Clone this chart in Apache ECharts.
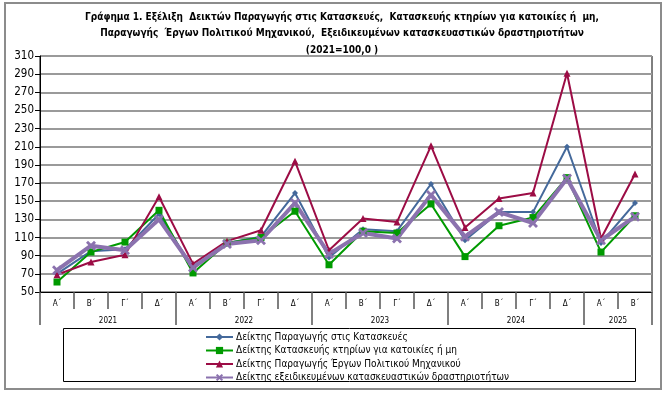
<!DOCTYPE html>
<html>
<head>
<meta charset="utf-8">
<script src="https://cdn.jsdelivr.net/npm/echarts@6/dist/echarts.min.js"></script>
<style>
  html, body { margin: 0; padding: 0; background: #fff; }
  #chart { width: 667px; height: 397px; }
</style>
</head>
<body>
<div id="chart"></div>
<script>
// quarters and years (two level category axis)
var quarters = ['Α΄', 'Β΄', 'Γ΄', 'Δ΄', 'Α΄', 'Β΄', 'Γ΄', 'Δ΄', 'Α΄', 'Β΄', 'Γ΄', 'Δ΄', 'Α΄', 'Β΄', 'Γ΄', 'Δ΄', 'Α΄', 'Β΄'];
var years = ['2021', '2022', '2023', '2024', '2025'];
var yearQuarters = [4, 4, 4, 4, 2];

var seriesNames = [
    'Δείκτης Παραγωγής στις Κατασκευές',
    'Δείκτης Κατασκευής κτηρίων για κατοικίες ή μη',
    'Δείκτης Παραγωγής Έργων Πολιτικού Μηχανικού',
    'Δείκτης εξειδικευμένων κατασκευαστικών δραστηριοτήτων'
];
var construction = [70, 95, 97, 136, 76, 104, 111, 159, 88, 119, 117, 169, 107, 138, 138, 210, 104, 148];
var buildings = [61, 94, 105, 140, 71, 104, 110, 139, 80, 117, 115, 147, 89, 123, 132, 176, 94, 134];
var civilEng = [69, 83, 91, 155, 81, 106, 118, 194, 96, 131, 127, 211, 121, 153, 159, 291, 109, 180];
var specialised = [74, 101, 96, 130, 77, 103, 107, 148, 92, 115, 109, 157, 111, 138, 126, 175, 107, 133];

// year axis: one slot per half quarter, label in the middle of each year
var yearSlots = [];
var yearBounds = [0];
for (var i = 0; i <= quarters.length * 2; i++) yearSlots.push('');
var pos = 0;
years.forEach(function (y, k) {
    yearSlots[pos * 2 + yearQuarters[k]] = y;
    pos += yearQuarters[k];
    yearBounds.push(pos * 2);
});

var FONT = "'Liberation Sans Narrow', 'DejaVu Sans Condensed', sans-serif";

var mychart = echarts.init(document.getElementById('chart'));
var option = {
    animation: false,
    backgroundColor: '#fff',
    textStyle: { fontFamily: FONT },
    title: {
        text: 'Γράφημα 1. Εξέλιξη  Δεικτών Παραγωγής στις Κατασκευές,  Κατασκευής κτηρίων για κατοικίες ή  μη,\nΠαραγωγής  Έργων Πολιτικού Μηχανικού,  Εξειδικευμένων κατασκευαστικών δραστηριοτήτων\n(2021=100,0 )',
        left: 337,
        top: 4,
        textAlign: 'center',
        textStyle: {
            fontFamily: FONT,
            fontSize: 10,
            fontWeight: 'bold',
            color: '#000',
            lineHeight: 16.5
        }
    },
    graphic: [
        // outer frame
        { type: 'rect', shape: { x: 5, y: 3, width: 656, height: 386 }, style: { fill: null, stroke: '#8c8c8c', lineWidth: 2 }, silent: true },
        // legend frame
        { type: 'rect', shape: { x: 63.5, y: 328.5, width: 572, height: 53 }, style: { fill: null, stroke: '#000', lineWidth: 1 }, silent: true }
    ],
    grid: {
        left: 40,
        right: 15,
        top: 56,
        bottom: 105,
        show: true,
        borderColor: '#000',
        borderWidth: 1
    },
    legend: {
        orient: 'vertical',
        left: 200,
        top: 327,
        itemGap: 3.5,
        itemWidth: 27,
        itemHeight: 9,
        textStyle: { fontFamily: FONT, fontSize: 10, color: '#000', padding: [0, 0, 0, -2] },
        data: seriesNames
    },
    xAxis: [
        {
            type: 'category',
            data: quarters,
            boundaryGap: true,
            axisLine: { show: true, lineStyle: { color: '#000', width: 1 } },
            axisTick: { show: true, length: 17, lineStyle: { color: '#555', width: 1.5 } },
            axisLabel: { interval: 0, margin: 8, fontSize: 8, color: '#000', fontFamily: FONT }
        },
        {
            type: 'category',
            data: yearSlots,
            boundaryGap: false,
            position: 'bottom',
            axisLine: { show: false },
            axisTick: {
                show: true,
                length: 33,
                interval: function (index) { return yearBounds.indexOf(index) >= 0; },
                lineStyle: { color: '#555', width: 1.5 }
            },
            axisLabel: { interval: 0, margin: 25, fontSize: 8, color: '#000', fontFamily: FONT }
        }
    ],
    yAxis: {
        type: 'value',
        min: 50,
        max: 310,
        interval: 20,
        axisLine: { show: true, lineStyle: { color: '#000' } },
        axisTick: { show: true, length: 5, lineStyle: { color: '#000' } },
        axisLabel: { fontSize: 11.5, color: '#000', margin: 6, fontFamily: FONT },
        splitLine: { show: true, lineStyle: { color: '#9a9a9a', width: 2 } }
    },
    series: [
        {
            name: seriesNames[0],
            type: 'line',
            data: construction,
            symbol: 'diamond',
            symbolSize: 6,
            itemStyle: { color: '#44699b' },
            lineStyle: { color: '#44699b', width: 2 }
        },
        {
            name: seriesNames[1],
            type: 'line',
            data: buildings,
            symbol: 'rect',
            symbolSize: 7,
            itemStyle: { color: '#009a00' },
            lineStyle: { color: '#009a00', width: 2 }
        },
        {
            name: seriesNames[2],
            type: 'line',
            data: civilEng,
            symbol: 'triangle',
            symbolSize: 7,
            itemStyle: { color: '#9c0c45' },
            lineStyle: { color: '#9c0c45', width: 2 }
        },
        {
            name: seriesNames[3],
            type: 'line',
            data: specialised,
            symbol: 'path://M2,0 L5,3 L8,0 L10,2 L7,5 L10,8 L8,10 L5,7 L2,10 L0,8 L3,5 L0,2 Z',
            symbolSize: 10,
            itemStyle: { color: '#8b72ae' },
            lineStyle: { color: '#8b72ae', width: 4 }
        }
    ]
};
mychart.setOption(option);
window.addEventListener('resize', function () {
    mychart.resize();
});
</script>
</body>
</html>
